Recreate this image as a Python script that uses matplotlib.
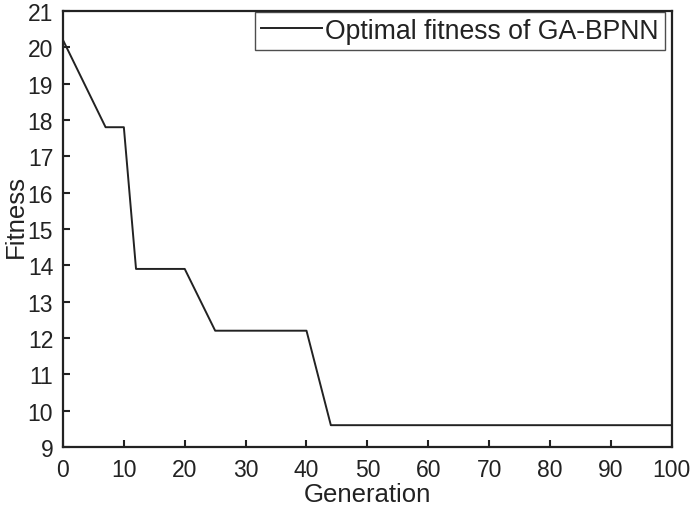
import matplotlib
matplotlib.use("Agg")
import matplotlib.pyplot as plt

generation = [0, 7, 10, 12, 20, 25, 40, 44, 100]
fitness = [20.2, 17.8, 17.8, 13.9, 13.9, 12.2, 12.2, 9.6, 9.6]
x_ticks = [0, 10, 20, 30, 40, 50, 60, 70, 80, 90, 100]
y_ticks = [9, 10, 11, 12, 13, 14, 15, 16, 17, 18, 19, 20, 21]

plt.rcParams['font.family'] = ['Liberation Sans', 'DejaVu Sans']

fig = plt.figure(figsize=(6.95, 5.10), dpi=100)
ax = fig.add_axes([0.0906, 0.1216, 0.876, 0.855])
ax.plot(generation, fitness, color='#222222', lw=1.4, label='Optimal fitness of GA-BPNN')
ax.set_xlim(0, 100)
ax.set_ylim(9, 21)
ax.set_xticks(x_ticks)
ax.set_yticks(y_ticks)
ax.tick_params(direction='in', length=5, width=1.5, labelsize=16.5, color='#222222', labelcolor='#222222')
ax.tick_params(axis='y', pad=7)
ax.tick_params(axis='x', pad=8)
for s in ax.spines.values():
    s.set_linewidth(1.6)
    s.set_color('#222222')
ax.set_xlabel('Generation', fontsize=18.5, labelpad=1, color='#222222')
ax.set_ylabel('Fitness', fontsize=18.5, color='#222222')
ax.yaxis.set_label_coords(-0.057, 0.532)
leg = ax.legend(loc='upper right', bbox_to_anchor=(0.9885, 0.9977), fontsize=19.2,
                frameon=True, fancybox=False, edgecolor='#222222', borderpad=0.22,
                handlelength=2.3, borderaxespad=0.0, handletextpad=0.12)
leg.get_frame().set_linewidth(1.0)
for t in leg.get_texts():
    t.set_color('#222222')
fig.savefig('out.png', dpi=100)
